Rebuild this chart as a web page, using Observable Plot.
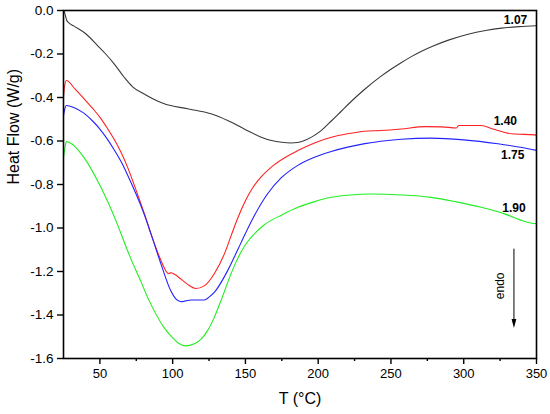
<!DOCTYPE html>
<html>
<head>
<meta charset="utf-8">
<script src="https://cdn.jsdelivr.net/npm/d3@7"></script>
<script src="https://cdn.jsdelivr.net/npm/@observablehq/plot@0.6"></script>
<style>
  html, body { margin: 0; padding: 0; background: white; }
</style>
</head>
<body>
<div id="chart"></div>
<script>
// Series names (ratio) and colours
const seriesNames = ["1.07", "1.40", "1.75", "1.90"];
const seriesColors = ["#3a3a3a", "#ff2222", "#2222ff", "#22ee22"];

// Curve 1.07
const t107 = [25.3, 26.2, 27.2, 28.5, 32.3, 40.3, 48.4, 54, 59.8, 66.7, 72.5, 80.4, 87, 94.2, 110.3, 126.3, 137.8, 147, 153, 160, 168, 175, 181, 186, 191, 196, 202, 209, 216, 223, 232, 243, 250, 257, 264, 271, 279, 290, 303, 315, 326, 338, 350];
const v107 = [0.0, -0.02, -0.045, -0.056, -0.072, -0.107, -0.161, -0.20, -0.245, -0.307, -0.351, -0.384, -0.408, -0.429, -0.452, -0.475, -0.506, -0.537, -0.558, -0.58, -0.598, -0.606, -0.609, -0.607, -0.597, -0.58, -0.552, -0.508, -0.462, -0.416, -0.362, -0.303, -0.27, -0.24, -0.212, -0.187, -0.163, -0.135, -0.109, -0.092, -0.081, -0.074, -0.070];

// Curve 1.40
const t140 = [25, 25.5, 27, 33, 39, 45, 50.7, 55, 59.6, 64, 69, 74, 78, 81.6, 85, 89.6, 93, 97, 99, 101, 105.7, 110, 116, 121.7, 128.6, 135.5, 140.2, 144.7, 150, 155, 160.8, 167.6, 175, 186, 197, 209, 220, 232, 243, 257, 273, 285, 295, 296.5, 312, 320, 333, 349, 350];
const v140 = [-0.40, -0.36, -0.322, -0.362, -0.405, -0.45, -0.497, -0.54, -0.59, -0.645, -0.72, -0.81, -0.885, -0.955, -1.025, -1.11, -1.165, -1.209, -1.206, -1.212, -1.235, -1.258, -1.278, -1.266, -1.21, -1.12, -1.035, -0.955, -0.875, -0.815, -0.765, -0.721, -0.685, -0.644, -0.61, -0.583, -0.567, -0.555, -0.552, -0.545, -0.534, -0.535, -0.54, -0.529, -0.529, -0.545, -0.567, -0.572, -0.575];

// Curve 1.75
const t175 = [25, 26, 27, 32, 39, 45, 50, 55, 59.8, 65, 71.3, 78, 81.6, 85, 92, 98.8, 102, 105.7, 109, 112.5, 121.7, 125, 128.6, 137.8, 144.7, 150, 156, 165, 174.5, 186, 197.4, 209, 220.3, 232, 243, 257, 277.6, 300, 323.5, 340, 350];
const v175 = [-0.483, -0.45, -0.437, -0.446, -0.472, -0.508, -0.545, -0.59, -0.64, -0.70, -0.79, -0.895, -0.958, -1.025, -1.166, -1.29, -1.325, -1.339, -1.335, -1.331, -1.331, -1.318, -1.296, -1.196, -1.10, -1.025, -0.945, -0.845, -0.77, -0.712, -0.675, -0.648, -0.628, -0.612, -0.601, -0.592, -0.587, -0.595, -0.613, -0.63, -0.643];

// Curve 1.90
const t190 = [25, 26, 27, 30, 39, 50.7, 61, 69, 71.3, 78, 82.8, 85, 94, 100, 104, 109, 114, 119.4, 124, 128.6, 134, 140, 144, 147, 151.6, 156, 163, 175, 186, 197, 209, 222, 236.4, 257, 277.6, 295, 312, 328, 342, 347, 350];
const v190 = [-0.675, -0.63, -0.603, -0.61, -0.675, -0.813, -0.966, -1.104, -1.142, -1.243, -1.319, -1.35, -1.457, -1.505, -1.53, -1.542, -1.535, -1.512, -1.472, -1.411, -1.32, -1.212, -1.15, -1.11, -1.062, -1.028, -0.985, -0.94, -0.905, -0.88, -0.859, -0.848, -0.844, -0.848, -0.859, -0.88, -0.905, -0.935, -0.97, -0.978, -0.98];

// Curve label positions (data coords)
const labelT = [335.6, 328.6, 333.6, 334.5];
const labelV = [-0.044, -0.511, -0.663, -0.908];

// Axis ticks
const xTicks = [50, 100, 150, 200, 250, 300, 350];
const xMinorTicks = [75, 125, 175, 225, 275, 325];
const yTicks = [0, -0.2, -0.4, -0.6, -0.8, -1.0, -1.2, -1.4, -1.6];

// "endo" annotation
const endoText = "endo";
const endoT = 334.5;
const endoV1 = -1.095;
const endoV2 = -1.46;
const endoTextT = 325.1;
const endoTextV = -1.266;

const xTitle = "T (°C)";
const yTitle = "Heat Flow (W/g)";

// Build table
const allT = [t107, t140, t175, t190];
const allV = [v107, v140, v175, v190];
const rows = [];
seriesNames.forEach((s, i) => {
  allT[i].forEach((t, j) => rows.push({series: s, T: t, v: allV[i][j]}));
});
const labelRows = seriesNames.map((s, i) => ({series: s, T: labelT[i], v: labelV[i]}));

const arrowHead = {
  draw(context) {
    context.moveTo(-2.4, -9);
    context.lineTo(2.4, -9);
    context.lineTo(0, 0);
    context.closePath();
  }
};

const chart = Plot.plot({
  width: 550,
  height: 414,
  marginLeft: 63,
  marginRight: 14,
  marginTop: 10,
  marginBottom: 56,
  style: {fontFamily: "'Liberation Sans', Arial, sans-serif", fontSize: "13px", background: "white", color: "black"},
  x: {domain: [25, 350]},
  y: {domain: [-1.6, 0]},
  color: {domain: seriesNames, range: seriesColors},
  marks: [
    Plot.line(rows, {x: "T", y: "v", z: "series", stroke: "series", curve: "monotone-x", strokeWidth: 1.1}),
    Plot.frame({stroke: "black", strokeWidth: 1.6}),
    Plot.axisX({ticks: xTicks, tickSize: 6, tickPadding: 4, tickFormat: d => String(d), label: null, fontSize: 13, strokeWidth: 1.4}),
    Plot.axisX({ticks: xMinorTicks, tickSize: 3, tickFormat: () => "", label: null, strokeWidth: 1.4}),
    Plot.axisY({ticks: yTicks, tickSize: 6, tickPadding: 4, tickFormat: d => d.toFixed(1), label: null, fontSize: 13.5, strokeWidth: 1.4}),
    Plot.text(labelRows, {x: "T", y: "v", text: "series", fontWeight: "bold", fontSize: 12, fill: "black"}),
    Plot.link([{x1: endoT, y1: endoV1, x2: endoT, y2: endoV2 + 0.03}], {x1: "x1", y1: "y1", x2: "x2", y2: "y2", stroke: "black", strokeWidth: 1}),
    Plot.dot([{x: endoT, y: endoV2}], {x: "x", y: "y", symbol: arrowHead, fill: "black", stroke: "none"}),
    Plot.text([{x: endoTextT, y: endoTextV, t: endoText}], {x: "x", y: "y", text: "t", rotate: -90, fontSize: 12, fill: "black"}),
    Plot.text([xTitle], {frameAnchor: "bottom", dy: 45, fontSize: 16, fill: "black"}),
    Plot.text([yTitle], {frameAnchor: "left", dx: -50, rotate: -90, fontSize: 16, fill: "black"})
  ]
});
document.getElementById("chart").appendChild(chart);
</script>
</body>
</html>
